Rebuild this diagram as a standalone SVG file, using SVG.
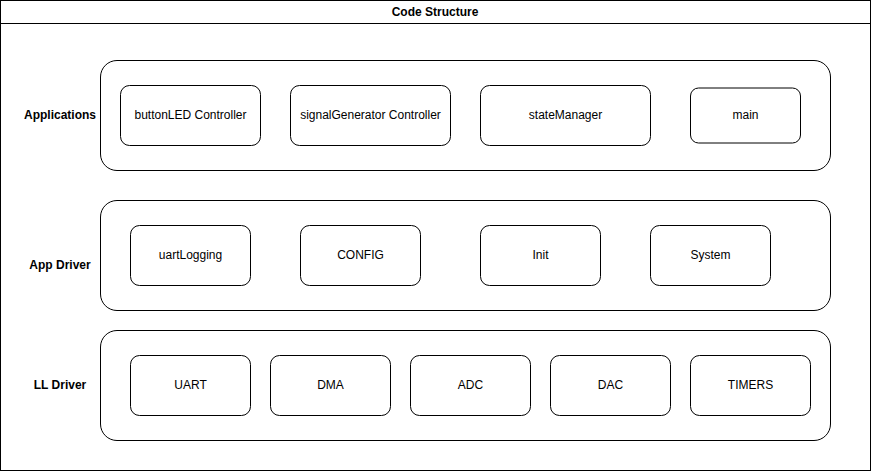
<svg xmlns="http://www.w3.org/2000/svg" width="871" height="471" viewBox="0 0 871 471">
<style>
.c{fill:#fff;stroke:#000;stroke-width:1}
.b{fill:#fff;stroke:#000;stroke-width:1}
text{font-family:"Liberation Sans",Arial,sans-serif;font-size:12px;fill:#000;text-anchor:middle;dominant-baseline:central}
.h{font-weight:bold}
</style>
<rect width="871" height="471" fill="#fff"/>
<g id="frame">
<rect x="0.5" y="0.5" width="870" height="470" fill="#fff" stroke="#000"/>
<line x1="0.5" y1="23.5" x2="870.5" y2="23.5" stroke="#000"/>
<text class="h" x="435" y="12">Code Structure</text>
</g>
<g id="applications">
<text class="h" x="60" y="115">Applications</text>
<rect class="c" x="100.5" y="60.5" width="730" height="110" rx="16.5"/>
</g>
<g id="appdriver">
<text class="h" x="60" y="265">App Driver</text>
<rect class="c" x="100.5" y="200.5" width="730" height="110" rx="16.5"/>
</g>
<g id="lldriver">
<text class="h" x="60" y="385">LL Driver</text>
<rect class="c" x="100.5" y="330.5" width="730" height="110" rx="16.5"/>
</g>
<g id="buttonLED"><rect class="b" x="120.5" y="85.5" width="140" height="60" rx="9"/><text x="190.5" y="115">buttonLED Controller</text></g>
<g id="signalGenerator"><rect class="b" x="290.5" y="85.5" width="160" height="60" rx="9"/><text x="370.5" y="115">signalGenerator Controller</text></g>
<g id="stateManager"><rect class="b" x="480.5" y="85.5" width="170" height="60" rx="9"/><text x="565.5" y="115">stateManager</text></g>
<g id="main"><rect class="b" x="690.5" y="88" width="110" height="55" rx="8"/><text x="745.5" y="115">main</text></g>
<g id="uartLogging"><rect class="b" x="130.5" y="225.5" width="120" height="60" rx="9"/><text x="190.5" y="255">uartLogging</text></g>
<g id="CONFIG"><rect class="b" x="300.5" y="225.5" width="120" height="60" rx="9"/><text x="360.5" y="255">CONFIG</text></g>
<g id="Init"><rect class="b" x="480.5" y="225.5" width="120" height="60" rx="9"/><text x="540.5" y="255">Init</text></g>
<g id="System"><rect class="b" x="650.5" y="225.5" width="120" height="60" rx="9"/><text x="710.5" y="255">System</text></g>
<g id="UART"><rect class="b" x="130.5" y="355.5" width="120" height="60" rx="9"/><text x="190.5" y="385">UART</text></g>
<g id="DMA"><rect class="b" x="270.5" y="355.5" width="120" height="60" rx="9"/><text x="330.5" y="385">DMA</text></g>
<g id="ADC"><rect class="b" x="410.5" y="355.5" width="120" height="60" rx="9"/><text x="470.5" y="385">ADC</text></g>
<g id="DAC"><rect class="b" x="550.5" y="355.5" width="120" height="60" rx="9"/><text x="610.5" y="385">DAC</text></g>
<g id="TIMERS"><rect class="b" x="690.5" y="355.5" width="120" height="60" rx="9"/><text x="750.5" y="385">TIMERS</text></g>
<g id="connectors"></g>
</svg>
